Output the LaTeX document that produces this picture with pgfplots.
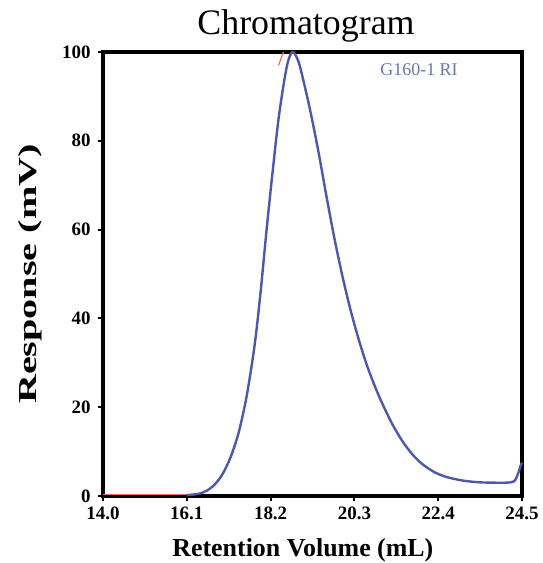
\documentclass[border=0pt]{standalone}
\usepackage{pgfplots}
\pgfplotsset{compat=1.18}
\usepackage{fontspec}
\setmainfont{Liberation Serif}
\definecolor{curveblue}{RGB}{78,88,168}
\definecolor{legblue}{RGB}{110,115,175}
\definecolor{tracered}{RGB}{235,110,100}
\begin{document}
\begin{tikzpicture}
\begin{axis}[
  scale only axis,
  width=419bp, height=444bp,
  xmin=14, xmax=24.5, ymin=0, ymax=100,
  xtick={14.0,16.1,18.2,20.3,22.4,24.5},
  xticklabels={14.0,16.1,18.2,20.3,22.4,24.5},
  ytick={0,20,40,60,80,100},
  xtick pos=left, ytick pos=left,
  tick align=outside,
  major tick length=5bp,
  tick style={black, line width=2bp},
  axis line style={black, line width=3.5bp},
  /pgf/number format/assume math mode=true,
  ticklabel style={font=\fontsize{19}{21}\selectfont\bfseries},
  xticklabel style={yshift=-2bp},
  yticklabel style={xshift=-4bp},
  title={Chromatogram},
  title style={font=\fontsize{36}{38}\selectfont, at={(0.4845,1)}, anchor=base, yshift=12bp},
  xlabel={Retention Volume (mL)},
  xlabel style={font=\fontsize{26}{28}\selectfont\bfseries, at={(axis description cs:0.477,-0.122)}, anchor=center},
  ylabel={\scalebox{1.55}[1]{Response (mV)}},
  ylabel style={font=\fontsize{26}{28}\selectfont\bfseries, at={(axis description cs:-0.174,0.5)}, anchor=center},
  clip=false,
]
\addplot[tracered, line width=1.2bp] coordinates {
(14.0,0.3) (15.0,0.3) (16.0,0.3) (16.3,0.3)
};
\addplot[tracered, line width=1.2bp] coordinates {
(18.40,97) (18.52,100)
};
\addplot[curveblue, line width=2.4bp, smooth, tension=0.5] coordinates {
(16.1,0.2) (16.4,0.5) (16.6,1.2) (16.8,2.6) (17.0,5.0) (17.2,8.8)
(17.4,14.3) (17.6,22.5) (17.8,34) (17.95,46) (18.1,60) (18.25,73)
(18.4,85) (18.55,94) (18.65,98.3) (18.76,100) (18.9,97.8) (19.05,92.5)
(19.2,86.5) (19.4,77.5) (19.6,67.5) (19.8,58) (20.0,49.5) (20.2,42)
(20.4,35.5) (20.6,29.8) (20.8,25) (21.0,20.8) (21.25,16.2) (21.5,12.4)
(21.75,9.4) (22.0,7.2) (22.3,5.4) (22.6,4.3) (23.0,3.5) (23.4,3.1)
(23.8,3.0) (24.1,3.0) (24.3,3.3) (24.4,5.0) (24.46,6.7) (24.5,7.5)
};
\node[text=legblue, font=\fontsize{18}{20}\selectfont] at (axis cs:21.92,96) {G160-1 RI};
\end{axis}
\pgfresetboundingbox
\path ([shift={(-103bp,-67bp)}]current axis.south west) rectangle ([shift={(21bp,52bp)}]current axis.north east);
\end{tikzpicture}
\end{document}
